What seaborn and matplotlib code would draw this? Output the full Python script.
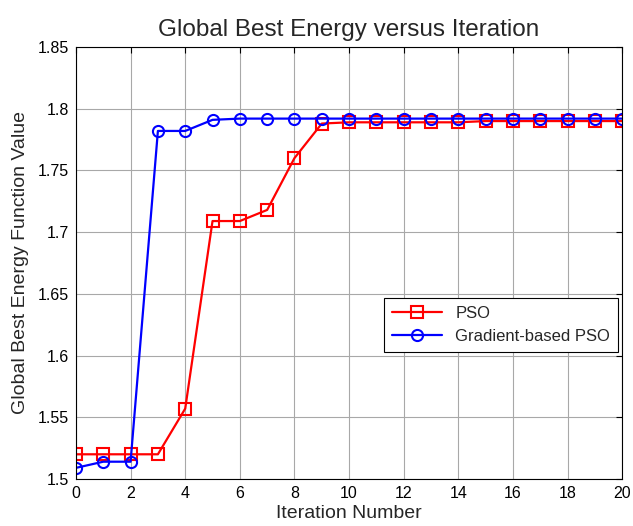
import seaborn as sns
import pandas as pd
import matplotlib.pyplot as plt
import numpy as np

iterations = list(range(0, 21))
pso = [1.520, 1.520, 1.520, 1.520, 1.557, 1.709, 1.709, 1.718, 1.760, 1.788,
       1.789, 1.789, 1.789, 1.789, 1.789, 1.790, 1.790, 1.790, 1.790, 1.790, 1.790]
gpso = [1.509, 1.514, 1.514, 1.782, 1.782, 1.791, 1.792, 1.792, 1.792, 1.792,
        1.792, 1.792, 1.792, 1.792, 1.792, 1.792, 1.792, 1.792, 1.792, 1.792, 1.792]
series_names = ['PSO', 'Gradient-based PSO']
x_ticks = [0, 2, 4, 6, 8, 10, 12, 14, 16, 18, 20]
y_ticks = [1.5, 1.55, 1.6, 1.65, 1.7, 1.75, 1.8, 1.85]
y_ticklabels = ['1.5', '1.55', '1.6', '1.65', '1.7', '1.75', '1.8', '1.85']

df = pd.DataFrame({
    'Iteration': iterations * 2,
    'Value': pso + gpso,
    'Method': [series_names[0]] * len(pso) + [series_names[1]] * len(gpso),
})

sns.set_style('white')
plt.rcParams['font.family'] = ['Liberation Sans', 'DejaVu Sans']

fig = plt.figure(figsize=(6.33, 5.26), dpi=100)
ax = fig.add_axes([0.120, 0.0894, 0.863, 0.8212])

pal = {'PSO': '#ff0000', 'Gradient-based PSO': '#0000ff'}
sns.lineplot(data=df, x='Iteration', y='Value', hue='Method', style='Method',
             palette=pal, markers={'PSO': 's', 'Gradient-based PSO': 'o'},
             dashes=False, markersize=8, markerfacecolor='none',
             markeredgewidth=1.5, linewidth=1.6, ax=ax)
for line in ax.lines:
    line.set_markeredgecolor(line.get_color())
    line.set_markerfacecolor('none')

ax.set_xlim(0, 20)
ax.set_ylim(1.5, 1.85)
ax.set_xticks(x_ticks)
ax.set_yticks(y_ticks)
ax.set_yticklabels(y_ticklabels)
ax.tick_params(direction='in', length=4, width=0.8, labelsize=11.5, colors='k',
               top=True, right=True, pad=5)
ax.grid(True, color='#a8a8a8', linewidth=0.8, linestyle='-')
for s in ax.spines.values():
    s.set_color('k')
    s.set_linewidth(0.8)

ax.set_xlabel('Iteration Number', fontsize=14, labelpad=3)
ax.set_ylabel('Global Best Energy Function Value', fontsize=14, labelpad=6)
ax.set_title('Global Best Energy versus Iteration', fontsize=17.5, pad=8)

leg = ax.legend(loc='lower right', bbox_to_anchor=(0.993, 0.294), fontsize=12,
                fancybox=False, edgecolor='k', framealpha=1, handlelength=3,
                borderaxespad=0, borderpad=0.5, labelspacing=0.45)
leg.get_frame().set_linewidth(0.8)
for h in leg.get_lines():
    h.set_markerfacecolor('none')
    h.set_markeredgecolor(h.get_color())

fig.savefig('out.png', dpi=100)
